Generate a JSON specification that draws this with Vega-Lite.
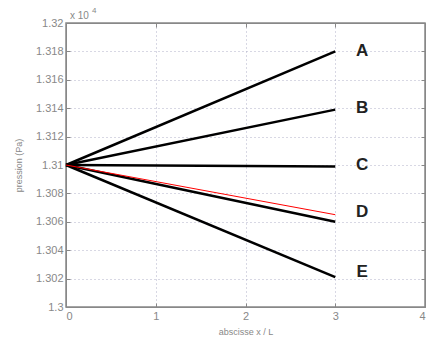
{
  "$schema": "https://vega.github.io/schema/vega-lite/v6.json",
  "width": 359,
  "height": 284,
  "autosize": "none",
  "padding": {"left": 66, "top": 23, "right": 16, "bottom": 47},
  "background": "white",
  "config": {
    "view": {"stroke": "#888888", "strokeWidth": 1.5},
    "font": "Liberation Sans",
    "axis": {
      "labelColor": "#888888",
      "labelFont": "Liberation Sans",
      "labelFontSize": 11,
      "titleColor": "#888888",
      "titleFont": "Liberation Sans",
      "titleFontSize": 9,
      "titleFontWeight": "normal",
      "domainColor": "#888888",
      "tickColor": "#888888",
      "gridColor": "#b0b0c8",
      "gridDash": [1, 3],
      "gridOpacity": 1,
      "tickSize": -4
    }
  },
  "datasets": {
    "lines": [
      {"curve": "A", "x": 0, "p": 1.310},
      {"curve": "A", "x": 3, "p": 1.318},
      {"curve": "B", "x": 0, "p": 1.310},
      {"curve": "B", "x": 3, "p": 1.3139},
      {"curve": "C", "x": 0, "p": 1.310},
      {"curve": "C", "x": 3, "p": 1.3099},
      {"curve": "D", "x": 0, "p": 1.310},
      {"curve": "D", "x": 3, "p": 1.3060},
      {"curve": "E", "x": 0, "p": 1.310},
      {"curve": "E", "x": 3, "p": 1.3021}
    ],
    "red": [
      {"x": 0, "p": 1.310},
      {"x": 3, "p": 1.3065}
    ],
    "labels": [
      {"label": "A", "x": 3.3, "p": 1.3180},
      {"label": "B", "x": 3.3, "p": 1.3140},
      {"label": "C", "x": 3.3, "p": 1.3100},
      {"label": "D", "x": 3.3, "p": 1.3067},
      {"label": "E", "x": 3.3, "p": 1.3025}
    ],
    "exp": [
      {"x": 0, "p": 1.32, "t": "x 10"}
    ],
    "exp4": [
      {"x": 0, "p": 1.32, "t": "4"}
    ]
  },
  "resolve": {"axis": {"x": "independent", "y": "independent"}},
  "layer": [
    {
      "data": {"name": "lines"},
      "mark": {"type": "line", "color": "black", "strokeWidth": 2.5},
      "encoding": {
        "x": {"field": "x", "type": "quantitative", "scale": {"domain": [0, 4]},
          "axis": {"title": "abscisse x / L", "values": [0, 1, 2, 3, 4], "grid": true, "labelPadding": 7, "titlePadding": 6}},
        "y": {"field": "p", "type": "quantitative", "scale": {"domain": [1.3, 1.32], "zero": false},
          "axis": {"title": "pression (Pa)", "values": [1.3, 1.302, 1.304, 1.306, 1.308, 1.31, 1.312, 1.314, 1.316, 1.318, 1.32], "format": "~g", "grid": true, "labelPadding": 7, "titlePadding": 12}},
        "detail": {"field": "curve"}
      }
    },
    {
      "data": {"name": "red"},
      "mark": {"type": "line", "color": "red", "strokeWidth": 1},
      "encoding": {
        "x": {"field": "x", "type": "quantitative", "axis": {"orient": "top", "labels": false, "title": null, "grid": false, "values": [0, 1, 2, 3, 4]}},
        "y": {"field": "p", "type": "quantitative", "axis": {"orient": "right", "labels": false, "title": null, "grid": false, "values": [1.3, 1.302, 1.304, 1.306, 1.308, 1.31, 1.312, 1.314, 1.316, 1.318, 1.32]}}
      }
    },
    {
      "data": {"name": "labels"},
      "mark": {"type": "text", "fontSize": 17, "fontWeight": "bold", "color": "#222222", "align": "center", "baseline": "middle", "font": "Liberation Sans"},
      "encoding": {
        "x": {"field": "x", "type": "quantitative", "axis": null},
        "y": {"field": "p", "type": "quantitative", "axis": null},
        "text": {"field": "label"}
      }
    },
    {
      "data": {"name": "exp"},
      "mark": {"type": "text", "fontSize": 10, "color": "#888888", "align": "left", "baseline": "bottom", "dx": 4, "dy": -2},
      "encoding": {
        "x": {"field": "x", "type": "quantitative", "axis": null},
        "y": {"field": "p", "type": "quantitative", "axis": null},
        "text": {"field": "t"}
      }
    },
    {
      "data": {"name": "exp4"},
      "mark": {"type": "text", "fontSize": 8, "color": "#888888", "align": "left", "baseline": "bottom", "dx": 26, "dy": -8},
      "encoding": {
        "x": {"field": "x", "type": "quantitative", "axis": null},
        "y": {"field": "p", "type": "quantitative", "axis": null},
        "text": {"field": "t"}
      }
    }
  ]
}
